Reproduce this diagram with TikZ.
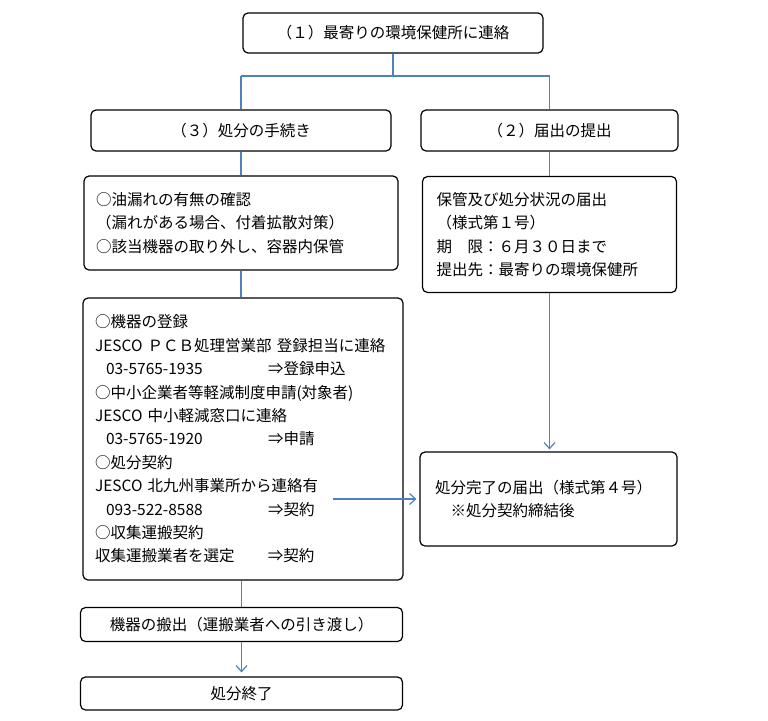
\documentclass[tikz,border=0pt]{standalone}
\usepackage{fontspec}
\newfontfamily\jp{Noto Sans CJK JP}
\usetikzlibrary{arrows.meta}
\definecolor{linkblue}{RGB}{79,129,189}
\newcommand{\tabto}[1]{\makebox[173pt][l]{#1}}

\begin{document}
\begin{tikzpicture}[x=1pt,y=-1pt,
    box/.style={draw,line width=1.2pt,rounded corners=5pt,inner sep=0pt,
      font=\jp\fontsize{15.5}{23.4}\selectfont},
    link/.style={draw,line width=1.2pt,linkblue},
    arrow/.style={link,-{Straight Barb[length=6pt,width=11pt,line width=1.2pt]}}]
    \useasboundingbox (0,0) rectangle (768,720);

    \node[box,minimum width=300,minimum height=40] (contact) at (393,33) {（１）最寄りの環境保健所に連絡};
    \node[box,minimum width=300,minimum height=41] (proc) at (241,130.5) {（３）処分の手続き};
    \node[box,minimum width=257,minimum height=41] (notify) at (549.5,130.5) {（２）届出の提出};

    \node[box,inner xsep=12,text width=290,minimum height=94,align=left] (check) at (241,223)
      {○油漏れの有無の確認\\（漏れがある場合、付着拡散対策）\\○該当機器の取り外し、容器内保管};
    \node[box,inner xsep=14,text width=226,minimum height=116,align=left] (report) at (549.5,234.5)
      {保管及び処分状況の届出\\（様式第１号）\\期　限：６月３０日まで\\提出先：最寄りの環境保健所};
    \node[box,inner xsep=12,text width=296,minimum height=282,align=left] (register) at (243,439)
      {○機器の登録\\
       JESCO ＰＣＢ処理営業部 登録担当に連絡\\
       \tabto{\hspace*{11pt}03-5765-1935}⇒登録申込\\
       ○中小企業者等軽減制度申請(対象者)\\
       JESCO 中小軽減窓口に連絡\\
       \tabto{\hspace*{11pt}03-5765-1920}⇒申請\\
       ○処分契約\\
       JESCO 北九州事業所から連絡有\\
       \tabto{\hspace*{11pt}093-522-8588}⇒契約\\
       ○収集運搬契約\\
       \tabto{収集運搬業者を選定}⇒契約};
    \node[box,inner xsep=15,text width=227,minimum height=94,align=left] (complete) at (548.5,499)
      {処分完了の届出（様式第４号）\\　※処分契約締結後};
    \node[box,minimum width=322,minimum height=34] (carry) at (241.5,624.5) {機器の搬出（運搬業者への引き渡し）};
    \node[box,minimum width=322,minimum height=33] (finish) at (241.5,693.5) {処分終了};

    \coordinate (jl) at (241,76);
    \coordinate (jr) at (549.5,76);
    \coordinate (fork) at (333,499);

    \path[link] (contact.south) -- (contact.south |- jl);
    \path[link] (jl) -- (jr);
    \path[link] (jl) -- (proc.north);
    \path[link] (jr) -- (notify.north);
    \path[link] (proc.south) -- (check.north);
    \path[link] (notify.south) -- (report.north);
    \path[link] (check.south) -- (check.south |- register.north);
    \path[arrow,shorten >=2pt] (report.south) -- (report.south |- complete.north);
    \path[arrow,shorten >=3pt] (fork) -- (complete.west);
    \path[link] (register.south -| carry.north) -- (carry.north);
    \path[arrow,shorten >=4pt] (carry.south) -- (finish.north);
  \end{tikzpicture}
\end{document}
